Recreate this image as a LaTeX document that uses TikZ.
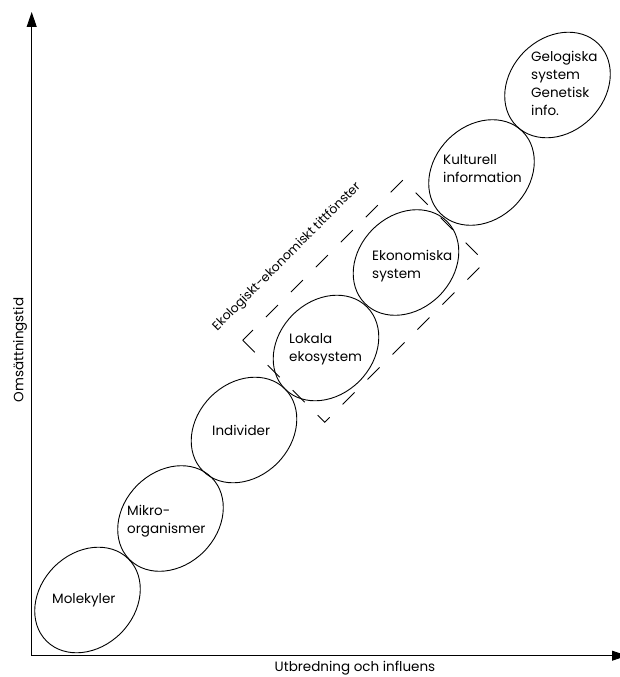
\documentclass[tikz,border=0pt]{standalone}
\usepackage{fontspec}
\setmainfont{Poppins}
\usetikzlibrary{arrows.meta,shapes.geometric}
\begin{document}
\begin{tikzpicture}[x=1pt,y=-1pt,
  blob/.style={ellipse,draw,line width=0.9pt,minimum width=116pt,minimum height=94pt,inner sep=0pt,rotate=45},
  lbl/.style={font=\fontsize{13.5}{17.8}\selectfont,inner sep=0pt,align=left,anchor=base west},
  axlbl/.style={font=\fontsize{13.5}{16}\selectfont,inner sep=0pt},
  axis/.style={line width=0.9pt,-{Triangle[length=15pt,width=10pt]}},
  win/.style={line width=0.9pt,dash pattern=on 17pt off 18.3pt}]
\useasboundingbox (0,0) rectangle (619,677);
% axes
\coordinate (O) at (31.7,655.7);
\coordinate (Ytip) at (31.7,12);
\coordinate (Xtip) at (627,655.7);
\draw[axis] (O) -- (Ytip);
\draw[axis] (O) -- (Xtip);
\node[axlbl,rotate=90] (ylab) at (20,350) {Omsättningstid};
\node[axlbl] (xlab) at (355,668) {Utbredning och influens};
% ellipses
\node[blob] (e1) at (87.5,600) {};
\node[blob] (e2) at (170.5,518.5) {};
\node[blob] (e3) at (244,430) {};
\node[blob] (e4) at (326,348) {};
\node[blob] (e5) at (406,262.5) {};
\node[blob] (e6) at (481.5,172.5) {};
\node[blob] (e7) at (557.5,85) {};
% labels (anchor = baseline of the last line)
\node[lbl] (t1) at (52,603) {Molekyler};
\node[lbl] (t2) at (127,533) {Mikro-\\organismer};
\node[lbl] (t3) at (212,435) {Individer};
\node[lbl] (t4) at (289,361) {Lokala\\ekosystem};
\node[lbl] (t5) at (372,278) {Ekonomiska\\system};
\node[lbl] (t6) at (443,182) {Kulturell\\information};
\node[lbl] (t7) at (531,115) {Gelogiska\\system\\Genetisk\\info.};
% window
\coordinate (L) at (242.75,340.25);
\coordinate (B) at (324.75,422.25);
\coordinate (R) at (485,262);
\coordinate (T) at (403,180);
\draw[win] (L) -- (B) -- (R) -- (T) -- cycle;
\node[font=\fontsize{12.5}{14}\selectfont,inner sep=0pt,rotate=45] (wlab) at (287,257) {Ekologiskt-ekonomiskt tittfönster};
\end{tikzpicture}
\end{document}
